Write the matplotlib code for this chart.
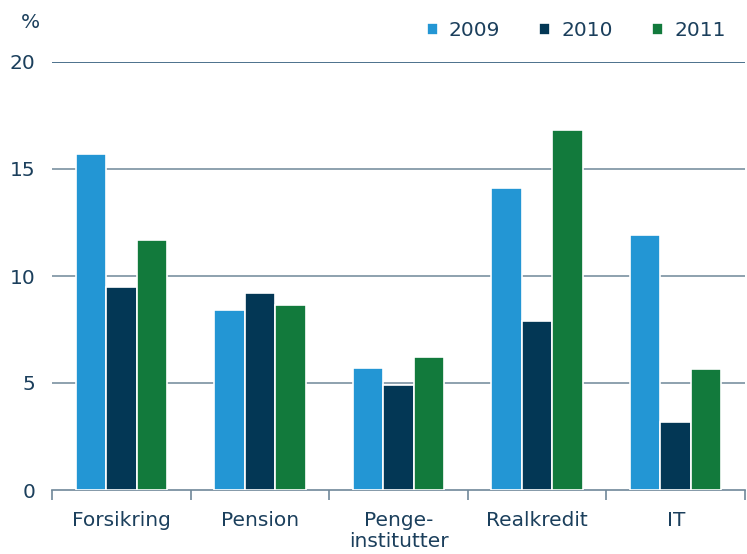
import matplotlib
matplotlib.use("Agg")
import matplotlib.pyplot as plt
import numpy as np

categories = ["Forsikring", "Pension", "Penge-\ninstitutter", "Realkredit", "IT"]
series_names = ["2009", "2010", "2011"]
v2009 = [15.7, 8.4, 5.7, 14.1, 11.9]
v2010 = [9.5, 9.2, 4.9, 7.9, 3.2]
v2011 = [11.7, 8.65, 6.2, 16.8, 5.65]
yticks = [0, 5, 10, 15, 20]

colors = ["#2396d4", "#033755", "#127a3c"]
text_color = "#1b3f5c"
grid_color = "#6f8799"
fs = 14.5

fig = plt.figure(figsize=(7.47, 5.54), dpi=100)
ax = fig.add_axes([52/747, 1 - 490/554, (745-52)/747, (490-62)/554])

x = np.arange(len(categories))
w = 0.22
for i, (vals, c, name) in enumerate(zip([v2009, v2010, v2011], colors, series_names)):
    ax.bar(x + (i - 1) * w, vals, width=w, color=c, edgecolor="white", linewidth=1.2,
           label=name, zorder=3)

ax.set_xlim(-0.5, len(categories) - 0.5)
ax.set_ylim(0, 20)
ax.set_yticks(yticks)
ax.set_yticklabels([str(t) for t in yticks], color=text_color, fontsize=fs)
for t in yticks[1:]:
    ax.axhline(t, color="#1b4a6e" if t == 20 else grid_color, linewidth=1.1, zorder=1)

ax.set_xticks(x)
ax.set_xticklabels(categories, color=text_color, fontsize=fs, linespacing=1.15)
ax.tick_params(axis="x", length=0, pad=15)
ax.tick_params(axis="y", length=0, pad=12)
ax.set_xticks(np.arange(len(categories) + 1) - 0.5, minor=True)
ax.tick_params(axis="x", which="minor", length=7, color=grid_color, width=1.2)

for s in ["top", "right", "left"]:
    ax.spines[s].set_visible(False)
ax.spines["bottom"].set_color(grid_color)
ax.spines["bottom"].set_linewidth(1.2)

fig.text(30/747, 1 - 22/554, "%", color=text_color, fontsize=fs, ha="center", va="center")

leg = fig.legend(loc="center right", bbox_to_anchor=(744/747, 1 - 31/554), ncol=3, frameon=False,
                 fontsize=fs, handlelength=0.55, handleheight=0.55, handletextpad=0.55,
                 columnspacing=1.95)
for t in leg.get_texts():
    t.set_color(text_color)

fig.savefig("out.png", dpi=100)
